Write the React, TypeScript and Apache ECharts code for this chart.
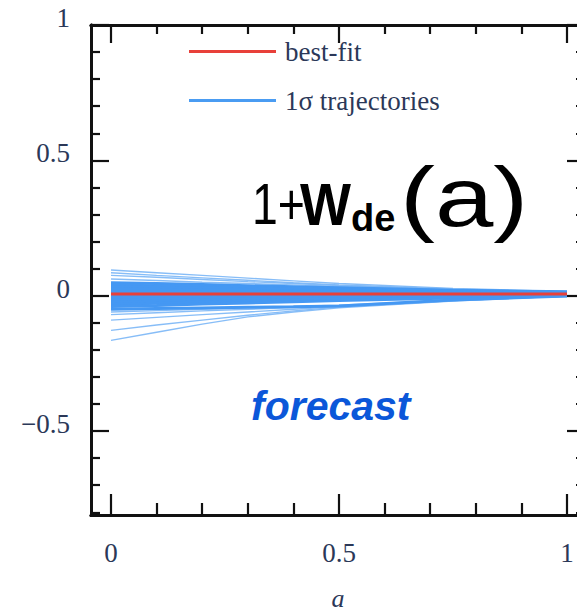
import React, { useEffect, useRef } from "react";
import * as echarts from "echarts";

// scale factor a at which each trajectory is sampled
const A_POINTS = [0, 0.1, 0.2, 0.3, 0.4, 0.5, 0.75, 1];

// best-fit 1 + w_de(a)
const BEST_FIT = [0.006, 0.006, 0.006, 0.006, 0.006, 0.006, 0.006, 0.006];

// dense core of 1-sigma trajectories
const CORE_TRAJECTORIES = [
  [0.048, 0.045, 0.041, 0.037, 0.033, 0.029, 0.02, 0.015],
  [0.04, 0.037, 0.034, 0.031, 0.028, 0.025, 0.018, 0.013],
  [0.032, 0.03, 0.028, 0.026, 0.023, 0.021, 0.016, 0.012],
  [0.024, 0.023, 0.021, 0.02, 0.018, 0.017, 0.014, 0.011],
  [0.016, 0.016, 0.015, 0.015, 0.014, 0.013, 0.011, 0.01],
  [0.008, 0.008, 0.008, 0.009, 0.009, 0.009, 0.009, 0.008],
  [0.0, 0.001, 0.002, 0.003, 0.004, 0.005, 0.006, 0.006],
  [-0.008, -0.006, -0.004, -0.002, 0.0, 0.001, 0.003, 0.004],
  [-0.016, -0.013, -0.01, -0.007, -0.004, -0.002, 0.001, 0.003],
  [-0.024, -0.02, -0.016, -0.012, -0.009, -0.006, -0.001, 0.002],
  [-0.032, -0.028, -0.023, -0.019, -0.015, -0.011, -0.004, 0.001],
  [-0.04, -0.036, -0.031, -0.027, -0.022, -0.018, -0.008, 0.0],
  [-0.05, -0.047, -0.045, -0.043, -0.041, -0.038, -0.016, -0.001],
];

// sparse outlying 1-sigma trajectories
const OUTER_TRAJECTORIES = [
  [0.095, 0.085, 0.075, 0.065, 0.055, 0.045, 0.027, 0.015],
  [0.085, 0.075, 0.066, 0.057, 0.048, 0.04, 0.025, 0.014],
  [0.075, 0.068, 0.06, 0.052, 0.045, 0.038, 0.023, 0.013],
  [0.062, 0.056, 0.05, 0.045, 0.04, 0.034, 0.021, 0.012],
  [-0.06, -0.055, -0.05, -0.045, -0.04, -0.035, -0.016, 0.0],
  [-0.07, -0.063, -0.056, -0.05, -0.044, -0.038, -0.018, -0.001],
  [-0.09, -0.08, -0.07, -0.06, -0.05, -0.04, -0.018, -0.001],
  [-0.128, -0.108, -0.09, -0.072, -0.056, -0.042, -0.018, -0.001],
  [-0.165, -0.135, -0.105, -0.078, -0.06, -0.045, -0.02, -0.001],
];

// axis ticks and labels
const X_LABELS = [0, 0.5, 1];
const X_MAJOR_TICKS = [0, 0.5, 1];
const X_MINOR_TICKS = [0.1, 0.2, 0.3, 0.4, 0.6, 0.7, 0.8, 0.9];
const Y_LABELS = [-0.5, 0, 0.5, 1];
const Y_MAJOR_TICKS = [-0.5, 0, 0.5, 1];
const Y_MINOR_TICKS = [-0.8, -0.7, -0.6, -0.4, -0.3, -0.2, -0.1, 0.1, 0.2, 0.3, 0.4, 0.6, 0.7, 0.8, 0.9];

const X_MIN = -0.0439;
const X_MAX = 1.0395;
const Y_MIN = -0.81;
const Y_MAX = 1;

const LABEL_COLOR = "#2b3858";
const SERIF = "'Liberation Serif', 'DejaVu Serif', serif";
const SANS = "'Liberation Sans', Arial, sans-serif";

export default function App() {
  const ref = useRef<HTMLDivElement>(null);

  useEffect(() => {
    document.body.style.margin = "0";
    if (!ref.current) return;
    const chart = echarts.init(ref.current, undefined, { renderer: "svg" });

    const toData = (vals: number[]) => A_POINTS.map((a, i) => [a, vals[i]]);

    const lineCommon = {
      type: "line",
      showSymbol: false,
      symbol: "none",
      silent: true,
      xAxisIndex: 0,
      yAxisIndex: 0,
    };

    const series: any[] = [];
    OUTER_TRAJECTORIES.forEach((t) => {
      series.push({
        ...lineCommon,
        name: "1σ trajectories",
        data: toData(t),
        color: "#4a9cf2",
        lineStyle: { color: "#7ab6f6", width: 1.4, opacity: 0.9 },
      });
    });
    CORE_TRAJECTORIES.forEach((t) => {
      series.push({
        ...lineCommon,
        name: "1σ trajectories",
        data: toData(t),
        color: "#4a9cf2",
        lineStyle: { color: "#4598f3", width: 3 },
      });
    });
    series.push({
      ...lineCommon,
      name: "best-fit",
      data: toData(BEST_FIT),
      color: "#e8403a",
      lineStyle: { color: "#e8403a", width: 3 },
      z: 5,
    });

    const axisLineStyle = { color: "#111", width: 3 };
    const tickStyle = { color: "#111", width: 2.2 };

    const xBase = {
      type: "value",
      min: X_MIN,
      max: X_MAX,
      splitLine: { show: false },
      axisLine: { show: true, onZero: false, lineStyle: axisLineStyle },
    };
    const yBase = {
      type: "value",
      min: Y_MIN,
      max: Y_MAX,
      splitLine: { show: false },
      axisLine: { show: true, onZero: false, lineStyle: axisLineStyle },
    };

    const fmt = (v: number) => (v < 0 ? "\u2212" + String(-v) : String(v));

    chart.setOption({
      animation: false,
      backgroundColor: "#ffffff",
      grid: {
        left: 91,
        top: 25,
        right: -8,
        bottom: 98,
        containLabel: false,
        outerBoundsMode: "none",
      },
      legend: {
        data: ["best-fit", "1σ trajectories"],
        orient: "vertical",
        left: 189,
        top: 38,
        padding: 0,
        icon: "rect",
        itemWidth: 87,
        itemHeight: 3,
        itemGap: 22,
        selectedMode: false,
        textStyle: {
          fontFamily: SERIF,
          fontSize: 27,
          color: LABEL_COLOR,
          padding: [0, 0, 0, 4],
        },
      },
      xAxis: [
        {
          ...xBase,
          position: "bottom",
          axisTick: { show: true, inside: true, length: 21, customValues: X_MAJOR_TICKS, lineStyle: tickStyle },
          axisLabel: {
            show: true,
            customValues: X_LABELS,
            margin: 24,
            fontFamily: SERIF,
            fontSize: 27,
            color: LABEL_COLOR,
            formatter: fmt,
          },
          name: "a",
          nameLocation: "middle",
          nameGap: 70,
          nameTextStyle: { fontFamily: SERIF, fontStyle: "italic", fontSize: 26, color: LABEL_COLOR },
        },
        {
          ...xBase,
          position: "bottom",
          axisTick: { show: true, inside: true, length: 12, customValues: X_MINOR_TICKS, lineStyle: tickStyle },
          axisLabel: { show: false },
        },
        {
          ...xBase,
          position: "top",
          axisTick: { show: true, inside: true, length: 18, customValues: X_MAJOR_TICKS, lineStyle: tickStyle },
          axisLabel: { show: false },
        },
        {
          ...xBase,
          position: "top",
          axisTick: { show: true, inside: true, length: 9, customValues: X_MINOR_TICKS, lineStyle: tickStyle },
          axisLabel: { show: false },
        },
      ],
      yAxis: [
        {
          ...yBase,
          position: "left",
          axisTick: { show: true, inside: true, length: 18, customValues: Y_MAJOR_TICKS, lineStyle: tickStyle },
          axisLabel: {
            show: true,
            customValues: Y_LABELS,
            margin: 21,
            fontFamily: SERIF,
            fontSize: 27,
            color: LABEL_COLOR,
            verticalAlign: "bottom",
            lineHeight: 14,
            formatter: fmt,
          },
        },
        {
          ...yBase,
          position: "left",
          axisTick: { show: true, inside: true, length: 9, customValues: Y_MINOR_TICKS, lineStyle: tickStyle },
          axisLabel: { show: false },
        },
        {
          ...yBase,
          position: "right",
          axisTick: { show: true, inside: true, length: 18, customValues: Y_MAJOR_TICKS, lineStyle: tickStyle },
          axisLabel: { show: false },
        },
        {
          ...yBase,
          position: "right",
          axisTick: { show: true, inside: true, length: 9, customValues: Y_MINOR_TICKS, lineStyle: tickStyle },
          axisLabel: { show: false },
        },
      ],
      graphic: [
        {
          type: "text",
          x: 252,
          y: 175,
          scaleX: 0.8,
          style: { text: "1+", font: `58px ${SANS}`, fill: "#000" },
        },
        {
          type: "text",
          x: 300,
          y: 174,
          scaleX: 0.9,
          style: { text: "W", font: `bold 60px ${SANS}`, fill: "#000" },
        },
        {
          type: "text",
          x: 351,
          y: 199,
          style: { text: "de", font: `bold 38px ${SANS}`, fill: "#000" },
        },
        {
          type: "text",
          x: 400,
          y: 155,
          scaleX: 1.25,
          style: { text: "(a)", font: `84px ${SANS}`, fill: "#000" },
        },
        {
          type: "text",
          x: 251,
          y: 385,
          style: { text: "forecast", font: `italic bold 41px ${SANS}`, fill: "#0b57d9" },
        },
      ],
      series,
    });

    return () => chart.dispose();
  }, []);

  return <div ref={ref} style={{ width: 577, height: 613 }} />;
}
